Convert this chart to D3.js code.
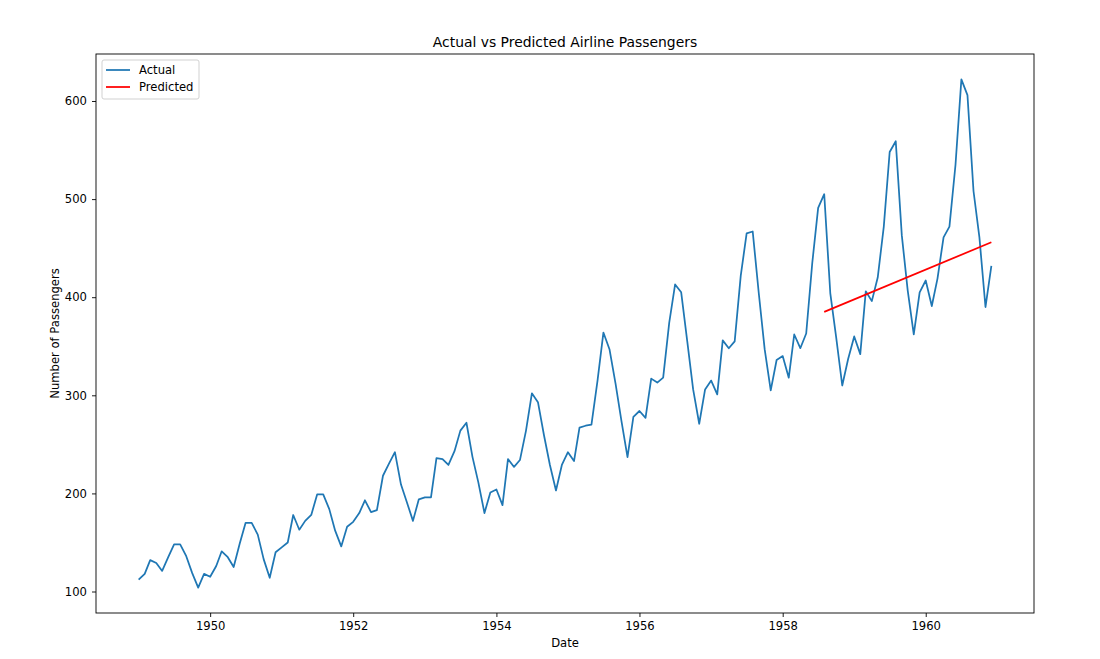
<!DOCTYPE html>
<html><head><meta charset="utf-8">
<script src="https://cdn.jsdelivr.net/npm/d3@7"></script>
<style>body{margin:0;background:#fff}svg{display:block}text{font-family:"DejaVu Sans",sans-serif;fill:#000}</style>
</head><body><svg id="c" width="1100" height="659"></svg>
<script>
const years = [1949,1950,1951,1952,1953,1954,1955,1956,1957,1958,1959,1960];
const actual = [
112,118,132,129,121,135,148,148,136,119,104,118,
115,126,141,135,125,149,170,170,158,133,114,140,
145,150,178,163,172,178,199,199,184,162,146,166,
171,180,193,181,183,218,230,242,209,191,172,194,
196,196,236,235,229,243,264,272,237,211,180,201,
204,188,235,227,234,264,302,293,259,229,203,229,
242,233,267,269,270,315,364,347,312,274,237,278,
284,277,317,313,318,374,413,405,355,306,271,306,
315,301,356,348,355,422,465,467,404,347,305,336,
340,318,362,348,363,435,491,505,404,359,310,337,
360,342,406,396,420,472,548,559,463,407,362,405,
417,391,419,461,472,535,622,606,508,461,390,432];
const predictedDates = ["1958-08-01","1960-12-01"];
const predictedValues = [385,456];
const yTicks = [100,200,300,400,500,600];
const xTickYears = [1950,1952,1954,1956,1958,1960];

const svg = d3.select("#c");
const L=96,R=1034,T=54,B=613;
const actualData = actual.map((v,i)=>({d:new Date(years[0]+Math.floor(i/12), i%12, 1), v}));
const predData = predictedDates.map((s,i)=>({d:d3.isoParse(s), v:predictedValues[i]}));
const ext = d3.extent(actualData,d=>d.d);
const span = ext[1]-ext[0];
const x = d3.scaleTime().domain([new Date(+ext[0]-span*0.05), new Date(+ext[1]+span*0.05)]).range([L,R]);
const vmin=d3.min(actual), vmax=d3.max(actual), vs=vmax-vmin;
const y = d3.scaleLinear().domain([vmin-vs*0.05, vmax+vs*0.05]).range([B,T]);

const xAxis = d3.axisBottom(x).tickValues(xTickYears.map(yr=>new Date(yr,0,1))).tickFormat(d3.timeFormat("%Y")).tickSize(4).tickPadding(5);
const yAxis = d3.axisLeft(y).tickValues(yTicks).tickSize(4).tickPadding(5);
const gx = svg.append("g").attr("transform",`translate(0,${B})`).call(xAxis);
const gy = svg.append("g").attr("transform",`translate(${L},0)`).call(yAxis);
[gx,gy].forEach(g=>{g.select(".domain").remove();g.selectAll("line").attr("stroke","#000").attr("stroke-width",0.9);g.selectAll("text").attr("font-size",11.6).attr("font-family","DejaVu Sans").attr("fill","#000");});

const line = d3.line().x(d=>x(d.d)).y(d=>y(d.v));
svg.append("path").datum(actualData).attr("d",line).attr("fill","none").attr("stroke","#1f77b4").attr("stroke-width",1.75).attr("stroke-linejoin","round");
svg.append("path").datum(predData).attr("d",line).attr("fill","none").attr("stroke","red").attr("stroke-width",1.75);

svg.append("rect").attr("x",L).attr("y",T).attr("width",R-L).attr("height",B-T).attr("fill","none").attr("stroke","#000").attr("stroke-width",0.9);

svg.append("text").attr("x",(L+R)/2).attr("y",T-7).attr("text-anchor","middle").attr("font-size",13.9).text("Actual vs Predicted Airline Passengers");
svg.append("text").attr("x",(L+R)/2).attr("y",647).attr("text-anchor","middle").attr("font-size",11.6).text("Date");
svg.append("text").attr("transform",`translate(59,${(T+B)/2}) rotate(-90)`).attr("text-anchor","middle").attr("font-size",11.6).text("Number of Passengers");

const lg = svg.append("g");
lg.append("rect").attr("x",102).attr("y",60).attr("width",97).attr("height",39).attr("rx",2).attr("fill","#fff").attr("fill-opacity",0.8).attr("stroke","#ccc").attr("stroke-width",0.9);
const items=[["Actual","#1f77b4"],["Predicted","red"]];
items.forEach((it,i)=>{
  const yy=70+i*17;
  lg.append("line").attr("x1",106).attr("x2",130).attr("y1",yy).attr("y2",yy).attr("stroke",it[1]).attr("stroke-width",1.75);
  lg.append("text").attr("x",139).attr("y",yy+4).attr("font-size",11.6).text(it[0]);
});
</script></body></html>
